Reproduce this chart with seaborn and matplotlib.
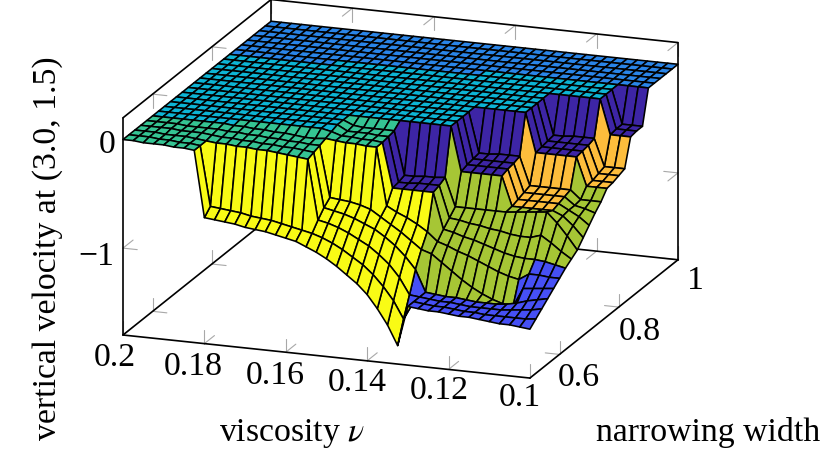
import numpy as np
import matplotlib
matplotlib.use("Agg")
import matplotlib.pyplot as plt
from mpl_toolkits.mplot3d import proj3d
import seaborn as sns

# tick labels
nu_ticks = [0.2, 0.18, 0.16, 0.14, 0.12, 0.1]
nu_labels = ["0.2", "0.18", "0.16", "0.14", "0.12", "0.1"]
width_ticks = [0.6, 0.8, 1.0]
width_labels = ["0.6", "0.8", "1"]
vel_ticks = [0, -1]
vel_labels = ["0", "\u22121"]

# grid of the sweep
nu_values = np.linspace(0.2, 0.1, 41)
width_values = np.linspace(0.5, 1.0, 26)

# velocity, in hundredths, one row per width (front to back)
royal_0 = [-126, -127, -128, -128, -129, -130, -130, -131, -132, -133, -133, -134, -135]
royal_1 = [-126, -127, -128, -128, -129, -130, -130, -131, -131, -131, -131, -131, -130]
royal_2 = [-126, -127, -128, -128, -129, -130, -130, -130, -130, -129, -128, -127, -125]
royal_3 = [-126, -127, -128, -128, -129, -130, -130, -130, -129, -127, -124, -122, -120]

z_rows = [
    [0, 0, -1, -1, -1, -2, -2, -3,
     -64, -65, -66, -67, -69, -70, -71, -73, -75, -77, -81, -85, -90, -96, -103, -110, -119, -131, -145, -163] + royal_0,
    [0, 0, 0, -1, -1, -2, -2, -3,
     -58, -59, -60, -61, -63, -64, -65, -67, -69, -71, -73, -76, -80, -85, -91, -97, -105, -115, -127, -143] + royal_1,
    [0, 0, 0, -1, -1, -1, -2, -3, -4, -4, -5, -5, -6, -6, -7, -8, -9, -10,
     -65, -67, -70, -74, -79, -84, -91, -99, -110, -125] + royal_2,
    [0, 0, 0, 0, -1, -1, -1, -2, -3, -3, -4, -4, -5, -5, -6, -6, -7, -8,
     -58, -60, -62, -65, -69, -73, -79, -86, -95, -106] + royal_3,
    [0, 0, 0, 0, -1, -1, -1, -1, -2, -2, -3, -3, -4, -4, -5, -5, -6, -6,
     -53, -54, -55, -57, -60, -66, -72, -78, -85, -92,
     -95, -102, -109, -116, -122, -127, -131, -134, -136, -118, -117, -116, -115],
    [0] * 8 + [-1, -1, -2, -2, -3, -3, -4, -5, -5, -4, -5, -6, -6, -7, -7,
               -60, -65, -69, -74, -80,
               -88, -91, -95, -98, -102, -106, -110, -113, -115, -109, -109, -110, -110],
    [0] * 17 + [-2, -5, -5, -6, -6, -7, -48, -48, -48, -48, -48,
                -81, -83, -86, -88, -91, -94, -97, -99, -100, -100, -101, -103, -105],
    [0] * 18 + [-5, -5, -5, -6, -6, -47, -47, -46, -46, -46,
                -75, -76, -78, -79, -81, -82, -84, -85, -85, -82, -88, -95, -101],
    [0] * 18 + [-4, -5, -5, -5, -5, -45, -45, -44, -44, -43,
                -69, -69, -69, -69, -69, -69, -68, -67, -66, -65, -74, -85, -97],
    [0] * 28 + [-41] * 5 + [-68] * 5 + [-72, -80, -90],
    [0] * 28 + [-39] * 5 + [-66] * 5 + [-71, -76, -83],
    [0] * 28 + [-38] * 5 + [-64] * 5 + [-71, -73, -76],
    [0] * 28 + [-37, -37, -36, -36, -36] + [-62] * 5 + [-70] * 3,
    [0] * 33 + [-36] * 5 + [-62] * 3,
    [0] * 33 + [-35] * 5 + [-61] * 3,
    [0] * 33 + [-34] * 5 + [-59] * 3,
    [0] * 33 + [-33, -33, -32, -32, -32] + [-57] * 3,
    [0] * 38 + [-32] * 3,
    [0] * 38 + [-31] * 3,
    [0] * 38 + [-31] * 3,
    [0] * 41,
    [0] * 41,
    [0] * 41,
    [0] * 41,
    [0] * 41,
    [0] * 41,
]

# solution branch of each cell, same order as z_rows
cell_rows = [
    "G" * 7 + "Y" * 21 + "R" * 12,
    "G" * 7 + "Y" * 20 + "R" * 13,
    "G" * 17 + "Y" * 10 + "R" * 13,
    "G" * 17 + "Y" * 10 + "L" * 9 + "R" * 4,
    "G" * 17 + "Y" * 10 + "L" * 9 + "R" * 4,
    "T" * 8 + "G" * 14 + "Y" * 5 + "L" * 10 + "R" * 3,
    "T" * 17 + "G" * 5 + "I" * 5 + "L" * 13,
    "T" * 17 + "G" * 5 + "I" * 5 + "L" * 13,
    "T" * 17 + "G" * 5 + "I" * 5 + "L" * 13,
    "T" * 27 + "I" * 5 + "O" * 5 + "L" * 3,
    "T" * 27 + "I" * 5 + "O" * 5 + "L" * 3,
    "T" * 27 + "I" * 5 + "O" * 5 + "L" * 3,
    "T" * 27 + "I" * 5 + "O" * 5 + "L" * 3,
    "T" * 32 + "I" * 5 + "O" * 3,
    "T" * 32 + "I" * 5 + "O" * 3,
    "T" * 32 + "I" * 5 + "O" * 3,
    "T" * 32 + "I" * 5 + "O" * 3,
    "T" * 37 + "I" * 3,
    "B" * 10 + "T" * 27 + "I" * 3,
    "B" * 24 + "T" * 13 + "I" * 3,
    "B" * 40,
    "B" * 40,
    "B" * 40,
    "B" * 40,
    "B" * 40,
]

branch_names = ["B", "T", "G", "I", "O", "L", "R", "Y"]
branch_colors = sns.color_palette(
    ["#2a85e8", "#0db4d4", "#35c493", "#3d25a5", "#fdbd3c", "#a6c635", "#4650f5", "#f9fb15"]
)

sns.set_style("white")
plt.rcParams["font.family"] = ["Liberation Serif", "DejaVu Serif"]
plt.rcParams["mathtext.fontset"] = "stix"
plt.rcParams["text.color"] = "black"

W, H = 832, 457
fig = plt.figure(figsize=(W / 100, H / 100), dpi=100)
ax = fig.add_axes([0, 0, 1, 1], projection="3d", proj_type="ortho")
ax.computed_zorder = False
ax.set_axis_off()
ax.view_init(elev=16.9, azim=-70)
ax.set_box_aspect((433, 433, 227))

xlim = (0.2, 0.1)
ylim = (0.5, 1.0)
zlim = (-1.8, 0.2)
ax.set_xlim(*xlim)
ax.set_ylim(*ylim)
ax.set_zlim(*zlim)


def to_screen(x, y, z):
    xs, ys, _ = proj3d.proj_transform(x, y, z, ax.get_proj())
    return ax.transData.transform((xs, ys))


# place the box so its corners land where the original has them
size = 800.0
left, bottom = 0.0, 0.0
for _ in range(3):
    ax.set_position([left / W, bottom / H, size / W, size / H])
    a = to_screen(xlim[0], ylim[0], zlim[0])
    b = to_screen(xlim[1], ylim[1], zlim[1])
    size *= 555.0 / (b[0] - a[0])
    ax.set_position([left / W, bottom / H, size / W, size / H])
    a = to_screen(xlim[0], ylim[0], zlim[0])
    left += 123 - a[0]
    bottom += (H - 335) - a[1]
ax.set_position([left / W, bottom / H, size / W, size / H])

# surface
X, Y = np.meshgrid(nu_values, width_values)
Z = np.array(z_rows) / 100.0
lookup = dict(zip(branch_names, branch_colors))
face_colors = np.ones((Z.shape[0], Z.shape[1], 4))
for j, row in enumerate(cell_rows):
    for i, name in enumerate(row):
        face_colors[j, i, :3] = lookup[name]

surf = ax.plot_surface(
    X, Y, Z, rstride=1, cstride=1, facecolors=face_colors, shade=False, linewidth=1.15, zorder=2
)
surf.set_edgecolor("black")

# box
box = dict(color="black", lw=1.2, zorder=1)
ax.plot([xlim[0], xlim[1]], [ylim[0], ylim[0]], [zlim[0], zlim[0]], **box)
ax.plot([xlim[1], xlim[1]], [ylim[0], ylim[1]], [zlim[0], zlim[0]], **box)
ax.plot([xlim[0], xlim[0]], [ylim[0], ylim[1]], [zlim[0], zlim[0]], **box)
ax.plot([xlim[0], xlim[1]], [ylim[1], ylim[1]], [zlim[0], zlim[0]], **box)
ax.plot([xlim[0], xlim[0]], [ylim[0], ylim[0]], [zlim[0], zlim[1]], **box)
ax.plot([xlim[0], xlim[0]], [ylim[1], ylim[1]], [zlim[0], zlim[1]], **box)
ax.plot([xlim[1], xlim[1]], [ylim[1], ylim[1]], [zlim[0], zlim[1]], **box)
ax.plot([xlim[0], xlim[0]], [ylim[0], ylim[1]], [zlim[1], zlim[1]], **box)
ax.plot([xlim[0], xlim[1]], [ylim[1], ylim[1]], [zlim[1], zlim[1]], **box)

# ticks, two short strokes each
tick = dict(color="#a8a8a8", lw=0.8, zorder=0.5)
dx, dy, dz = 0.0035, 0.034, 0.125


def stroke(x, y, z, ux=0.0, uy=0.0, uz=0.0):
    ax.plot([x, x + ux], [y, y + uy], [z, z + uz], **tick)


for nu in nu_ticks:
    stroke(nu, ylim[0], zlim[0], uz=dz)
    stroke(nu, ylim[0], zlim[0], uy=dy)
    stroke(nu, ylim[1], zlim[0], uz=dz)
    stroke(nu, ylim[1], zlim[0], uy=-dy)
    stroke(nu, ylim[1], zlim[1], uz=-dz)
    stroke(nu, ylim[1], zlim[1], uy=-dy)
for w in width_ticks:
    stroke(xlim[0], w, zlim[0], uz=dz)
    stroke(xlim[0], w, zlim[0], ux=-dx)
    stroke(xlim[1], w, zlim[0], uz=dz)
    stroke(xlim[1], w, zlim[0], ux=dx)
    stroke(xlim[0], w, zlim[1], uz=-dz)
    stroke(xlim[0], w, zlim[1], ux=-dx)
for v in vel_ticks:
    stroke(xlim[0], ylim[0], v, ux=-dx)
    stroke(xlim[0], ylim[0], v, uy=dy)
    stroke(xlim[1], ylim[1], v, ux=dx)
    stroke(xlim[1], ylim[1], v, uy=-dy)

# labels, placed in pixels of the original
font = 24.3


def label(px, py, text, **kw):
    fig.text(px / W, 1 - py / H, text, fontsize=font, ha="center", va="center", **kw)


for px, py, text in zip([115, 193, 275, 357, 439, 520], [358, 367, 376, 383, 391, 398], nu_labels):
    label(px, py, text)
for px, py, text in zip([579, 640, 695], [378, 332, 281], width_labels):
    label(px, py, text)
for px, py, text in zip([107, 96], [145, 257], vel_labels):
    label(px, py, text)
label(292, 434, r"viscosity $\nu$")
label(708, 433, "narrowing width")
label(48, 248, "vertical velocity at (3.0, 1.5)", rotation=90)

fig.savefig("out.png", dpi=100)
